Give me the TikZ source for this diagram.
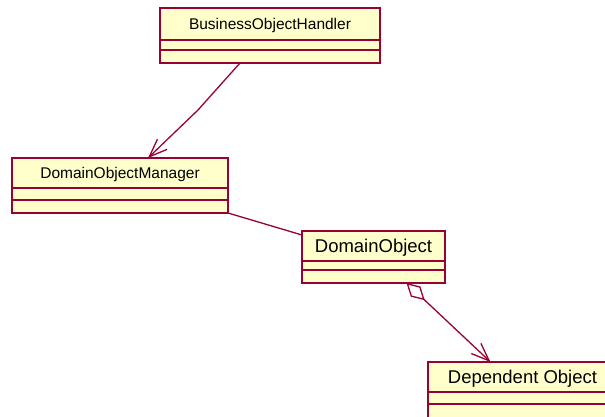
\documentclass[tikz,border=0pt]{standalone}
\usepackage{fontspec}
\setmainfont{Liberation Sans}
\usetikzlibrary{positioning,arrows.meta}
\definecolor{umlline}{RGB}{153,0,51}
\definecolor{umlfill}{RGB}{255,255,204}

\begin{document}
\begin{tikzpicture}[
  x=1pt, y=-1pt,
  box/.style={draw=umlline, fill=umlfill, line width=1.6pt, inner sep=0pt, outer sep=0pt},
  clsname/.style={box, anchor=north west, text depth=0pt},
  clspart/.style={box},
  smallname/.style={font=\fontsize{15.5pt}{18pt}\selectfont},
  bigname/.style={font=\fontsize{18.5pt}{22pt}\selectfont},
  link/.style={draw=umlline, line width=1.3pt},
  assoc/.style={link, -{Straight Barb[length=18pt,width=14pt]}},
  aggr/.style={link, {Diamond[open,length=25pt,width=14pt]}-{Straight Barb[length=18pt,width=14pt]}}
]
  \path[use as bounding box, clip] (0,0) rectangle (605,417);

  % classes: name, attributes, operations
  \node[clsname, smallname, minimum width=220pt, minimum height=32pt] (boh) at (160,8) {BusinessObjectHandler};
  \node[clspart, minimum width=220pt, minimum height=10pt, below=0pt of boh] (boh-attr) {};
  \node[clspart, minimum width=220pt, minimum height=13pt, below=0pt of boh-attr] (boh-ops) {};

  \node[clsname, smallname, minimum width=216pt, minimum height=30pt] (dom) at (12,158) {DomainObjectManager};
  \node[clspart, minimum width=216pt, minimum height=12pt, below=0pt of dom] (dom-attr) {};
  \node[clspart, minimum width=216pt, minimum height=13pt, below=0pt of dom-attr] (dom-ops) {};

  \node[clsname, bigname, minimum width=143pt, minimum height=30pt] (do) at (302,231) {DomainObject};
  \node[clspart, minimum width=143pt, minimum height=9pt, below=0pt of do] (do-attr) {};
  \node[clspart, minimum width=143pt, minimum height=13pt, below=0pt of do-attr] (do-ops) {};

  \node[clsname, bigname, minimum width=189pt, minimum height=30pt] (dep) at (428,362) {Dependent Object};
  \node[clspart, minimum width=189pt, minimum height=12pt, below=0pt of dep] (dep-attr) {};
  \node[clspart, minimum width=189pt, minimum height=14pt, below=0pt of dep-attr] (dep-ops) {};

  % relations
  \coordinate (bend) at (198,110);
  \draw[assoc] ([xshift=-30pt]boh-ops.south) -- (bend) -- ([xshift=28pt]dom.north);
  \draw[link] (dom-ops.south east) -- ([yshift=-4pt]do.north west);
  \draw[aggr] ([xshift=33pt]do-ops.south) -- ([xshift=-32pt]dep.north);
\end{tikzpicture}
\end{document}
